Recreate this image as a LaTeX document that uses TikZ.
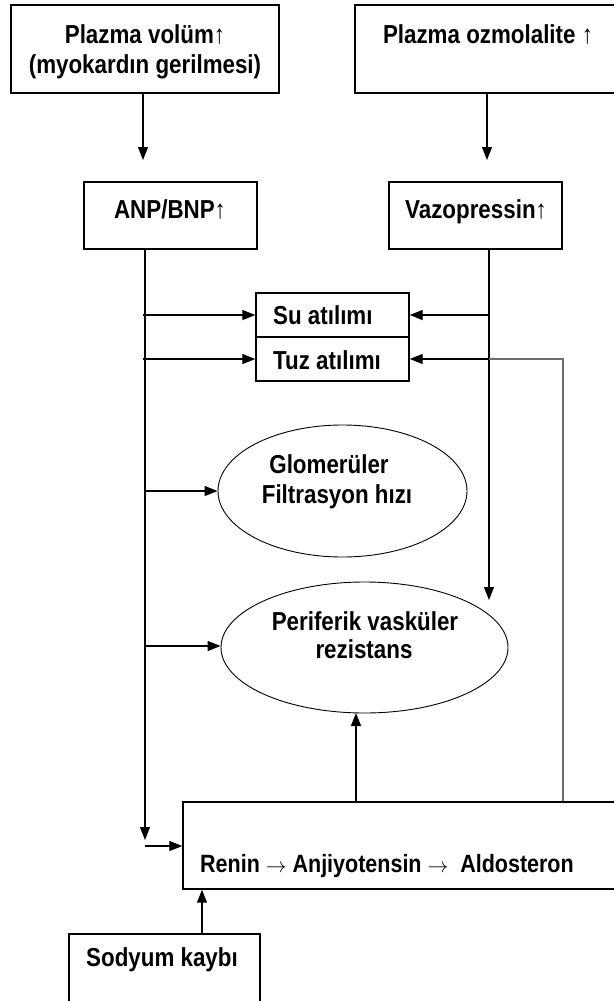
\documentclass[tikz,border=0pt]{standalone}
\usepackage{fontspec}
\setmainfont{Liberation Sans}
\newfontfamily\nb{Liberation Sans Bold}[FakeStretch=0.86]
\usetikzlibrary{arrows.meta,shapes.geometric}
\definecolor{lgray}{RGB}{110,110,110}
\newcommand{\rarr}{{\fontsize{20}{20}\selectfont$\rightarrow$}}
\begin{document}
\begin{tikzpicture}[x=1pt,y=-1pt,
  box/.style={draw, rectangle, line width=1.4pt, inner sep=0pt},
  oval/.style={draw, ellipse, line width=0.9pt, inner sep=0pt},
  txt/.style={font=\nb\fontsize{26}{29}\selectfont, inner sep=0pt, anchor=base},
  txtl/.style={txt, anchor=base west},
  conn/.style={line width=1.3pt, -{Triangle[length=13pt,width=10pt]}},
  plain/.style={line width=1.3pt}]
\useasboundingbox (0,0) rectangle (613,1001);
% boxes
\node[box, minimum width=268, minimum height=88] (b1) at (145,49) {};
\node[txt] (t1a) at (145,43) {Plazma volüm↑};
\node[txt] (t1b) at (145,73) {(myokardın gerilmesi)};
\node[box, minimum width=261, minimum height=88] (b2) at (485.5,49) {};
\node[txt] (t2) at (488,43) {Plazma ozmolalite ↑};
\node[box, minimum width=173, minimum height=67] (b3) at (170.5,215.5) {};
\node[txt] (t3) at (170,218) {ANP/BNP↑};
\node[box, minimum width=173, minimum height=67] (b4) at (475.5,215.5) {};
\node[txt] (t4) at (476,218) {Vazopressin↑};
\node[box, minimum width=153, minimum height=44] (su) at (332.5,315) {};
\node[txtl] (tsu) at (273,324) {Su atılımı};
\node[box, minimum width=153, minimum height=44] (tuz) at (332.5,359) {};
\node[txtl] (ttuz) at (273,369) {Tuz atılımı};
\node[oval, minimum width=249, minimum height=132] (e1) at (342.5,491) {};
\node[txt] (te1a) at (329,473) {Glomerüler};
\node[txt] (te1b) at (337,503) {Filtrasyon hızı};
\node[oval, minimum width=287, minimum height=131] (e2) at (364.5,647.5) {};
\node[txt] (te2a) at (365,630) {Periferik vasküler};
\node[txt] (te2b) at (364,658) {rezistans};
\node[box, minimum width=433, minimum height=87] (b5) at (399.5,845.5) {};
\node[txtl, font=\nb\fontsize{25}{29}\selectfont] (t5) at (200,872) {Renin \rarr{} Anjiyotensin \rarr\ \ Aldosteron};
\node[box, minimum width=191, minimum height=69] (b6) at (164.5,968.5) {};
\node[txtl] (t6) at (86,966) {Sodyum kaybı};
% connectors
\coordinate (c1) at (143,160);
\draw[conn] (b1.south -| c1) -- (c1);
\coordinate (c2) at (487,160);
\draw[conn] (b2.south -| c2) -- (c2);
\coordinate (c3) at (145,840);
\draw[conn] (b3.south -| c3) -- (c3);
\coordinate (l1) at (143,315);
\draw[conn] (l1) -- (su.west);
\coordinate (l2) at (143,359);
\draw[conn] (l2) -- (tuz.west);
\coordinate (l3) at (145,491);
\draw[conn] (l3) -- (e1.west);
\coordinate (l4) at (145,646);
\draw[conn] (l4) -- (l4 -| e2.west);
\coordinate (l5) at (145,846);
\draw[conn] (l5) -- (l5 -| b5.west);
\coordinate (c4) at (489,600);
\draw[conn] (b4.south -| c4) -- (c4);
\coordinate (r1) at (489,315);
\coordinate (r2) at (489,359);
\coordinate (r3) at (563,359);
\draw[plain, lgray] (b5.north -| r3) -- (r3) -- (r2);
\draw[conn] (r1) -- (su.east);
\draw[conn] (r2) -- (tuz.east);
\coordinate (u1) at (356,713);
\draw[conn] (b5.north -| u1) -- (u1);
\coordinate (d1) at (202,0);
\draw[conn] (b6.north -| d1) -- (b5.south -| d1);
\end{tikzpicture}
\end{document}
